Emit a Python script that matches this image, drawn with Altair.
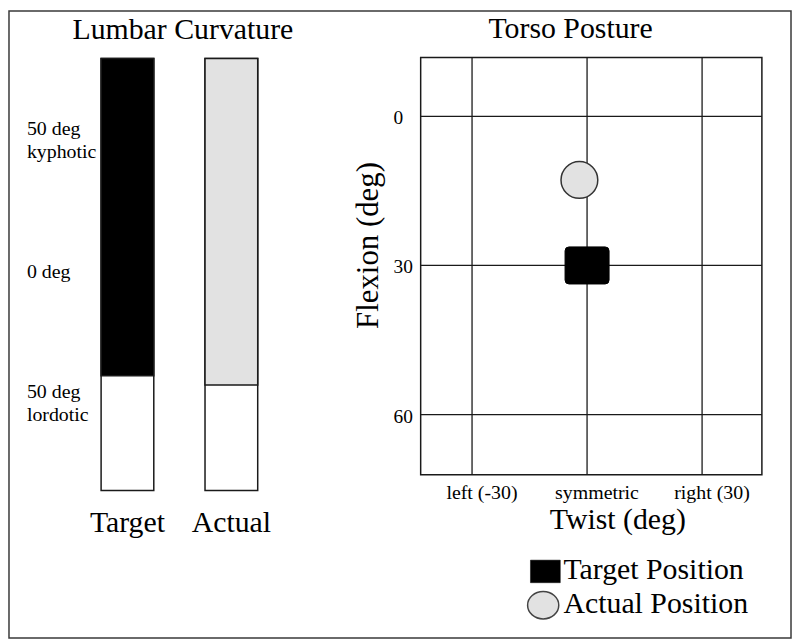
import altair as alt
import pandas as pd

FONT = "Liberation Serif"

# ---------------- Lumbar curvature panel ----------------
bar_names = ["Target", "Actual"]
bar_levels = [-39.5, -43.0]          # deg; positive = kyphotic, negative = lordotic
lumbar_domain = [-83.0, 81.0]        # extent of each bar
lumbar_tick_values = [50, 0, -50]
lumbar_tick_labels = ["50 deg\nkyphotic", "0 deg", "50 deg\nlordotic"]

# ---------------- Torso posture panel ----------------
twist_domain = [-43.4, 45.6]
flexion_domain = [-11.85, 72.1]
twist_ticks = [-30, 0, 30]
twist_tick_labels = ["left (-30)", "symmetric", "right (30)"]
flexion_ticks = [0, 30, 60]
flexion_tick_labels = ["0", "30", "60"]
position_names = ["Target Position", "Actual Position"]
position_twist = [0.0, -2.0]
position_flexion = [30.0, 12.8]

# ---------------- tables ----------------
bars_df = pd.DataFrame({"bar": bar_names, "level": bar_levels,
                        "top": lumbar_domain[1], "bottom": lumbar_domain[0]})
lumbar_labels_df = pd.DataFrame({"deg": lumbar_tick_values, "label": lumbar_tick_labels})
box_df = pd.DataFrame({"t0": [twist_domain[0]], "t1": [twist_domain[1]],
                       "f0": [flexion_domain[0]], "f1": [flexion_domain[1]]})
vgrid_df = pd.DataFrame({"twist": twist_ticks, "label": twist_tick_labels,
                         "f0": flexion_domain[0], "f1": flexion_domain[1]})
hgrid_df = pd.DataFrame({"flexion": flexion_ticks, "label": flexion_tick_labels,
                         "t0": twist_domain[0], "t1": twist_domain[1]})
pos_df = pd.DataFrame({"name": position_names, "twist": position_twist,
                       "flexion": position_flexion})

# ---------------- scales ----------------
bar_x = alt.Scale(domain=bar_names, range=[92.7, 250.3], paddingInner=0.493, paddingOuter=0)
lumbar_y = alt.Scale(domain=lumbar_domain, range=[482.45, 47.85], nice=False, zero=False)
twist_x = alt.Scale(domain=twist_domain, range=[414.3, 757.7], nice=False, zero=False)
flex_y = alt.Scale(domain=flexion_domain, range=[46.7, 466.7], nice=False, zero=False)
legend_y = alt.Scale(type="point", domain=position_names, range=[564.0, 598.0], padding=0)

INK = "#1a1a1a"
GRAY = "#e2e2e2"

# ---------------- left panel ----------------
bx = alt.X("bar:N", scale=bar_x, axis=None)
outline = alt.Chart(bars_df).mark_bar(fill="white", stroke=INK, strokeWidth=1.5).encode(
    x=bx, y=alt.Y("top:Q", scale=lumbar_y, axis=None), y2="bottom:Q")
fillbar = alt.Chart(bars_df).mark_bar(stroke=INK, strokeWidth=1.5, opacity=1).encode(
    x=bx, y=alt.Y("top:Q", scale=lumbar_y, axis=None), y2="level:Q",
    fill=alt.Fill("bar:N", scale=alt.Scale(domain=bar_names, range=["#000000", GRAY]), legend=None))
label_style = dict(align="left", baseline="middle", font=FONT, fontSize=20,
                   lineBreak="\n", lineHeight=23, color="black")
lumbar_labels_1 = alt.Chart(lumbar_labels_df).transform_filter(
    "indexof(datum.label, '\\n') < 0").mark_text(**label_style).encode(
    x=alt.value(18), y=alt.Y("deg:Q", scale=lumbar_y, axis=None), text="label:N")
lumbar_labels_2 = alt.Chart(lumbar_labels_df).transform_filter(
    "indexof(datum.label, '\\n') >= 0").mark_text(dy=-11.5, **label_style).encode(
    x=alt.value(18), y=alt.Y("deg:Q", scale=lumbar_y, axis=None), text="label:N")
bar_names_text = alt.Chart(bars_df).mark_text(
    align="center", baseline="alphabetic", font=FONT, fontSize=30, color="black").encode(
    x=bx, y=alt.value(524), text="bar:N")
left = alt.layer(outline, fillbar, lumbar_labels_1, lumbar_labels_2, bar_names_text)

# ---------------- right panel ----------------
box = alt.Chart(box_df).mark_rect(fill="transparent", stroke=INK, strokeWidth=1.5).encode(
    x=alt.X("t0:Q", scale=twist_x, axis=None), x2="t1:Q",
    y=alt.Y("f0:Q", scale=flex_y, axis=None), y2="f1:Q")
vgrid = alt.Chart(vgrid_df).mark_rule(color=INK, strokeWidth=1.3).encode(
    x=alt.X("twist:Q", scale=twist_x, axis=None),
    y=alt.Y("f0:Q", scale=flex_y, axis=None), y2="f1:Q")
hgrid = alt.Chart(hgrid_df).mark_rule(color=INK, strokeWidth=1.3).encode(
    y=alt.Y("flexion:Q", scale=flex_y, axis=None),
    x=alt.X("t0:Q", scale=twist_x, axis=None), x2="t1:Q")
ylabels = alt.Chart(hgrid_df).mark_text(
    align="left", baseline="middle", dy=2, font=FONT, fontSize=19.5, color="black").encode(
    x=alt.value(387), y=alt.Y("flexion:Q", scale=flex_y, axis=None), text="label:N")
xlabels = alt.Chart(vgrid_df).mark_text(
    align="center", baseline="alphabetic", dx=10, font=FONT, fontSize=20, color="black").encode(
    x=alt.X("twist:Q", scale=twist_x, axis=None), y=alt.value(491), text="label:N")

rrect = ("M-0.82,-0.842L0.82,-0.842Q1,-0.842 1,-0.662L1,0.662Q1,0.842 0.82,0.842"
         "L-0.82,0.842Q-1,0.842 -1,0.662L-1,-0.662Q-1,-0.842 -0.82,-0.842Z")
actual_pt = alt.Chart(pos_df).transform_filter(alt.datum.name == "Actual Position").mark_point(
    shape="circle", fill=GRAY, stroke="#333333", strokeWidth=1.5, size=1370,
    opacity=1, fillOpacity=1).encode(
    x=alt.X("twist:Q", scale=twist_x, axis=None), y=alt.Y("flexion:Q", scale=flex_y, axis=None))
target_pt = alt.Chart(pos_df).transform_filter(alt.datum.name == "Target Position").mark_point(
    shape=rrect, fill="black", stroke="black", strokeWidth=1, size=1962,
    opacity=1, fillOpacity=1).encode(
    x=alt.X("twist:Q", scale=twist_x, axis=None), y=alt.Y("flexion:Q", scale=flex_y, axis=None))
right = alt.layer(box, vgrid, hgrid, ylabels, xlabels, actual_pt, target_pt)

# ---------------- legend ----------------
leg_rect = "M-0.9375,-0.709L0.9375,-0.709L0.9375,0.709L-0.9375,0.709Z"
leg_ell = ("M0.98,0C0.98,0.475 0.541,0.86 0,0.86C-0.541,0.86 -0.98,0.475 -0.98,0"
           "C-0.98,-0.475 -0.541,-0.86 0,-0.86C0.541,-0.86 0.98,-0.475 0.98,0Z")
ly = alt.Y("name:N", scale=legend_y, axis=None)
leg_text = alt.Chart(pos_df).mark_text(
    align="left", baseline="alphabetic", dy=8, font=FONT, fontSize=30, color="black").encode(
    x=alt.value(558), y=ly, text="name:N")
leg_sq = alt.Chart(pos_df).transform_filter(alt.datum.name == "Target Position").mark_point(
    shape=leg_rect, fill="black", stroke="black", strokeWidth=0.5, size=1024,
    opacity=1, fillOpacity=1).encode(x=alt.value(539.8), y=ly)
leg_circ = alt.Chart(pos_df).transform_filter(alt.datum.name == "Actual Position").mark_point(
    shape=leg_ell, fill=GRAY, stroke="#444444", strokeWidth=1.5, size=1024,
    opacity=1, fillOpacity=1).encode(x=alt.value(537.6), y=ly)
legend = alt.layer(leg_sq, leg_circ, leg_text)

# ---------------- titles ----------------
def title_text(txt, x, y, size=30, angle=0):
    return alt.Chart(pd.DataFrame({"t": [txt]})).mark_text(
        align="center", baseline="alphabetic", font=FONT, fontSize=size,
        color="black", angle=angle).encode(x=alt.value(x), y=alt.value(y), text="t:N")

titles = alt.layer(
    title_text("Lumbar Curvature", 175, 28.3),
    title_text("Torso Posture", 565.2, 27),
    title_text("Twist (deg)", 612.7, 521.7),
    title_text("Flexion (deg)", 371, 236, size=31, angle=270),
)

chart = alt.layer(left, right, legend, titles).resolve_scale(
    x="independent", y="independent"
).properties(width=787, height=631, padding=1, background="white").configure_view(
    stroke="#3a3a3a", strokeWidth=1.5
)

chart.save("out.html", embed_options={"renderer": "svg", "actions": False})
